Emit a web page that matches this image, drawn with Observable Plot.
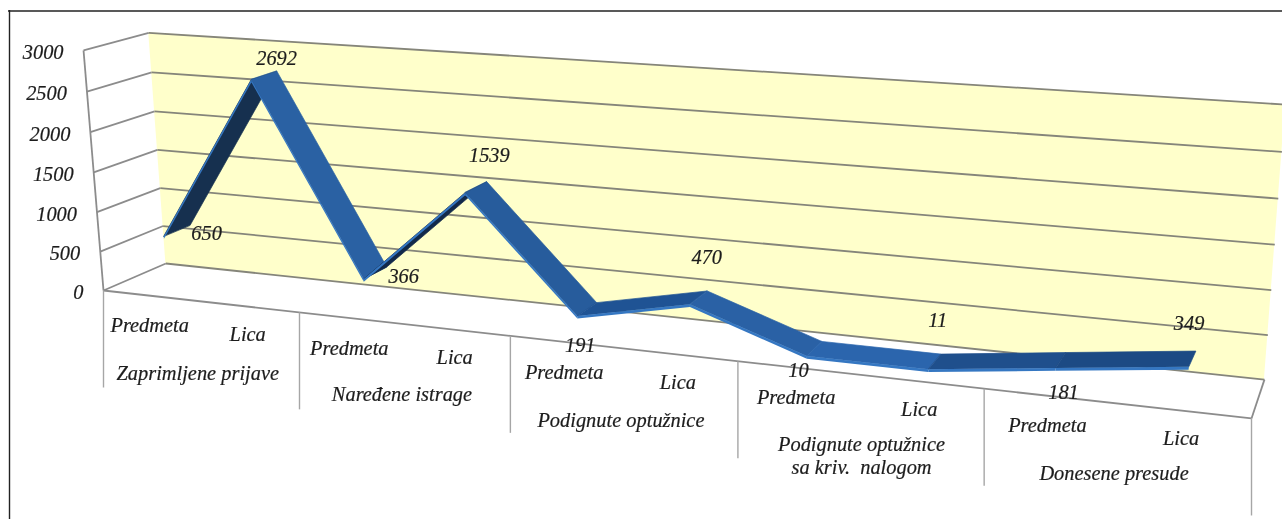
<!DOCTYPE html>
<html>
<head>
<meta charset="utf-8">
<script src="https://cdn.jsdelivr.net/npm/d3@7"></script>
<script src="https://cdn.jsdelivr.net/npm/@observablehq/plot@0.6"></script>
<style>
html,body{margin:0;padding:0;background:#fff;overflow:hidden}
svg{display:block;filter:blur(0.35px)}
</style>
</head>
<body>
<div id="chart"></div>
<script>
const groups = ["Zaprimljene prijave", "Naređene istrage", "Podignute optužnice", "Podignute optužnice\nsa kriv.  nalogom", "Donesene presude"];
const kinds = ["Predmeta", "Lica"];
const values = [650, 2692, 366, 1539, 191, 470, 10, 11, 181, 349];
const yTicks = [0, 500, 1000, 1500, 2000, 2500, 3000];

// Styling / placement, kept apart from the data
const labelDx = [28, 11, 27, 12, -8, 7, -17, 2, 2, -4];
const labelDy = [2, -18, 2, -33, 35, -41, 21, -42, 31, -36];
const segmentFill = ["#16304f", "#2a61a3", "#12294a", "#275c9c", "#1f5394", "#2a61a5", "#2b65ad", "#1f4f8c", "#1c4a84"];
const groupDx = [-2, -1, -1, 3, -1];
const groupDy = [71, 70, 71, 80, 69];
const W = 1282, H = 519, YMAX = 3000, DEPTH_FRONT = 0.27, DEPTH_BACK = 0.70, TOP = 12, UNDER = 20;

// Perspective of the 3-D box: u along categories, v value (0..1), d depth (0 front, 1 back)
function project(u, value, d) {
  const v = value / YMAX;
  const w = 1 - 0.1765 * u - 0.0318 * v + 0.043 * d;
  return [
    (103 + 927.2 * u - 22.6 * v + (69.5 - 4.5 * u) * d) / w,
    (290 + 54.2 * u - 241.6 * v - 15.7 * d) / w
  ];
}
const slot = i => (i + 0.5) / values.length;

// Ribbon faces
const faces = [], strips = [];
values.slice(0, -1).forEach((val, i) => {
  [[i, val], [i + 1, values[i + 1]]].forEach(([k, vv]) => {
    const f = project(slot(k), vv + TOP, DEPTH_FRONT);
    const b = project(slot(k), vv + TOP, DEPTH_BACK);
    faces.push({seg: i, fx: f[0], fy: f[1], bx: b[0], by: b[1], fill: segmentFill[i]});
    const s0 = project(slot(k), vv - UNDER, DEPTH_FRONT);
    strips.push({seg: i, x1: s0[0], y1: s0[1], x2: f[0], y2: f[1]});
  });
});

const wall = [0, 1].map(u => {
  const a = project(u, 0, 1), b = project(u, YMAX, 1);
  return {x1: a[0], y1: a[1], x2: b[0], y2: b[1]};
});

const backGrid = yTicks.map(t => ({a: project(0, t, 1), b: project(1, t, 1)}));
const sideGrid = yTicks.map(t => ({a: project(0, t, 0), b: project(0, t, 1)}));
const floorLines = [
  {a: project(0, 0, 0), b: project(1, 0, 0)},
  {a: project(1, 0, 0), b: project(1, 0, 1)},
  {a: project(0, 0, 0), b: project(0, YMAX, 0)}
];
const dividers = d3.range(groups.length + 1).map(i => {
  const p = project(i / groups.length, 0, 0);
  return {a: p, b: [p[0], p[1] + 97]};
});

const valueLabels = values.map((v, i) => {
  const p = project(slot(i), v, 0.5);
  return {x: p[0] + labelDx[i], y: p[1] + labelDy[i], text: String(v)};
});
const tickLabels = yTicks.map(t => {
  const p = project(0, t, 0);
  return {x: p[0] - 20, y: p[1] + 2, text: String(t)};
});
const kindLabels = values.map((_, i) => {
  const p = project(slot(i), 0, 0);
  return {x: p[0] - 1.5, y: p[1] + (i % 2 ? 28 : 30), text: kinds[i % 2]};
});
const groupLabels = groups.map((g, i) => {
  const p = project((i + 0.5) / groups.length, 0, 0);
  return {x: p[0] + groupDx[i], y: p[1] + groupDy[i], text: g};
});

const link = (data, o) => Plot.link(data, {x1: d => d.a[0], y1: d => d.a[1], x2: d => d.b[0], y2: d => d.b[1], ...o});
const font = {fontFamily: "Liberation Serif", fontStyle: "italic", fontSize: 20.4, fill: "#1c1c1c", stroke: "#1c1c1c", strokeWidth: 0.2};
const txt = (data, o) => Plot.text(data, {x: "x", y: "y", text: "text", ...font, ...o});

const plot = Plot.plot({
  width: W, height: H,
  marginTop: 0, marginRight: 0, marginBottom: 0, marginLeft: 0,
  x: {domain: [0, W], range: [0, W], axis: null},
  y: {domain: [0, H], range: [0, H], axis: null},
  color: {type: "identity"},
  style: {background: "#fff"},
  marks: [
    Plot.area(wall, {x1: "x1", y1: "y1", x2: "x2", y2: "y2", fill: "#ffffcb"}),
    link(backGrid, {stroke: "#85857a", strokeWidth: 1.8}),
    link(sideGrid, {stroke: "#8c8c8c", strokeWidth: 1.8}),
    link(floorLines, {stroke: "#8c8c8c", strokeWidth: 1.8}),
    link(dividers, {stroke: "#a6a6a6", strokeWidth: 1.4}),
    Plot.area(faces, {x1: "fx", y1: "fy", x2: "bx", y2: "by", z: "seg", fill: "fill", stroke: "fill", strokeWidth: 0.7, strokeLinejoin: "round"}),
    Plot.area(strips, {x1: "x1", y1: "y1", x2: "x2", y2: "y2", z: "seg", fill: "#3577c2"}),
    txt(tickLabels, {textAnchor: "end"}),
    txt(valueLabels),
    txt(kindLabels),
    txt(groupLabels, {lineHeight: 1.13}),
    Plot.ruleX([9], {y1: 10, y2: H, stroke: "#222", strokeWidth: 1.4}),
    Plot.ruleY([10.5], {x1: 8, x2: W, stroke: "#222", strokeWidth: 1.4})
  ]
});
document.getElementById("chart").appendChild(plot);
</script>
</body>
</html>
